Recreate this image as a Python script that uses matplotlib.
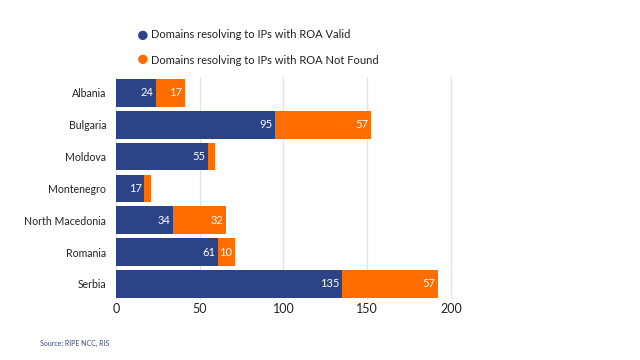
#! /usr/bin/env python3

import matplotlib
matplotlib.use("Agg")
import matplotlib.pyplot as plt
import numpy as np

countries = ["Albania", "Bulgaria", "Moldova", "Montenegro",
             "North Macedonia", "Romania", "Serbia"]
roa_valid = [24, 95, 55, 17, 34, 61, 135]
roa_not_found = [17, 57, 4, 4, 32, 10, 57]
xticks = [0, 50, 100, 150, 200]

BLUE = "#2c4487"
ORANGE = "#ff6d00"
TEXT = "#222222"

plt.rcParams['font.family'] = ['Lato', 'DejaVu Sans']

fig = plt.figure(figsize=(6.4, 3.6), dpi=100)
ax = fig.add_axes([0.181, 0.167, 0.537, 0.619])

y = np.arange(len(countries))
valid = np.array(roa_valid)
notfound = np.array(roa_not_found)

ax.barh(y, valid, height=0.87, color=BLUE, zorder=3)
ax.barh(y, notfound, left=valid, height=0.87, color=ORANGE, zorder=3)

# value labels, inside the bar ends
for i in range(len(countries)):
    ax.text(valid[i] - 1.6, y[i], str(valid[i]), color="white", fontsize=8,
            ha="right", va="center", zorder=4)
    if notfound[i] >= 8:
        ax.text(valid[i] + notfound[i] - 1.6, y[i], str(notfound[i]), color="white",
                fontsize=8, ha="right", va="center", zorder=4)

ax.set_ylim(len(countries) - 0.5, -0.5)
ax.set_xlim(0, 205)
ax.set_yticks(y)
ax.set_yticklabels(countries, fontsize=7.6, color=TEXT)
ax.set_xticks(xticks)
ax.set_xticklabels([str(t) for t in xticks], fontsize=9, color=TEXT)
ax.tick_params(axis="y", length=0, pad=7)
ax.tick_params(axis="x", length=0, pad=2)
ax.grid(axis="x", color="#e3e3e3", linewidth=0.9, zorder=0)
for s in ax.spines.values():
    s.set_visible(False)

# legend with round markers
fig.text(143 / 640, 1 - 35 / 360, "\u25cf", color=BLUE, fontsize=14, ha="center", va="center")
fig.text(151 / 640, 1 - 35 / 360, "Domains resolving to IPs with ROA Valid",
         color=TEXT, fontsize=8, ha="left", va="center")
fig.text(143 / 640, 1 - 60 / 360, "\u25cf", color=ORANGE, fontsize=14, ha="center", va="center")
fig.text(151 / 640, 1 - 60 / 360, "Domains resolving to IPs with ROA Not Found",
         color=TEXT, fontsize=8, ha="left", va="center")

fig.text(40 / 640, 1 - 343 / 360, "Source: RIPE NCC, RIS", color="#3a4a7a",
         fontsize=5, ha="left", va="center")

fig.savefig("out.png", dpi=100)
